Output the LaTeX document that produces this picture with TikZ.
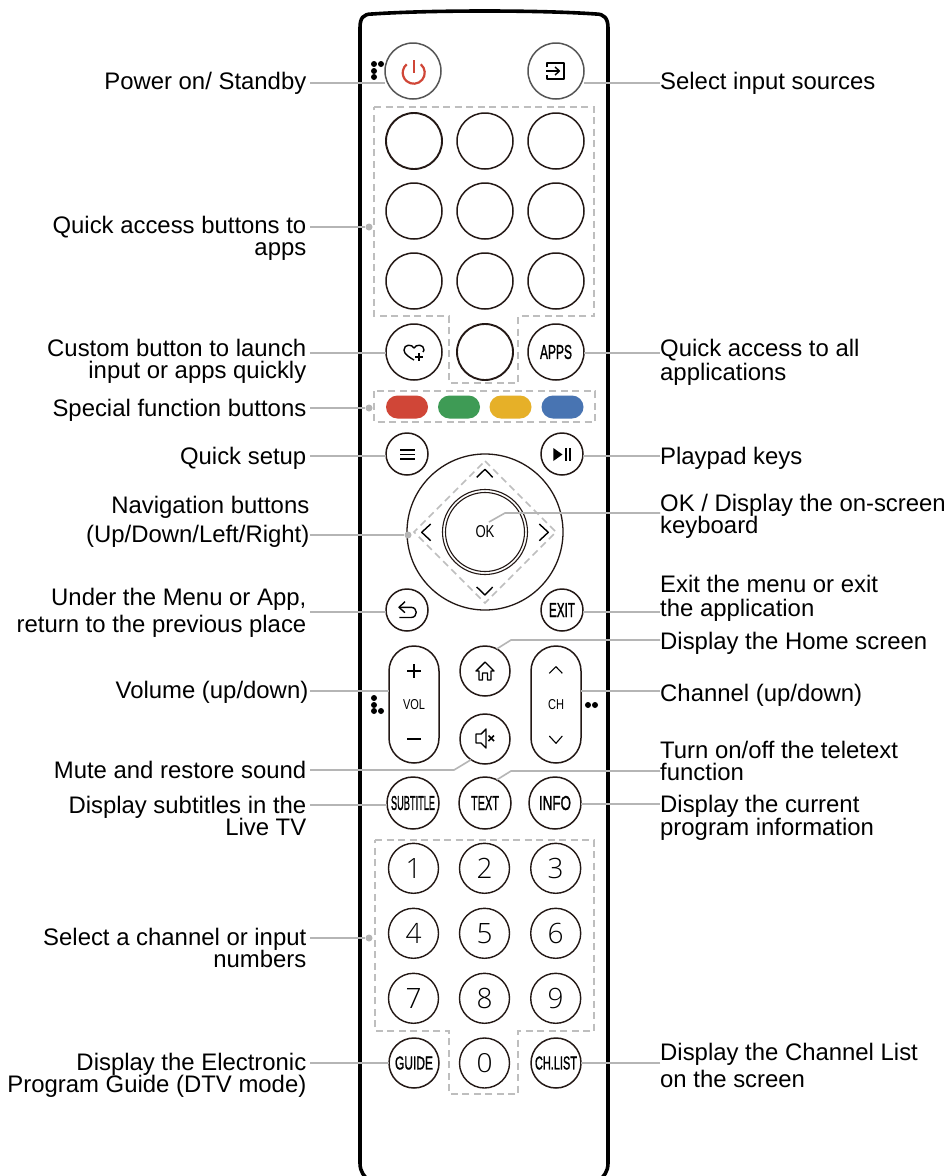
\documentclass[tikz,border=0pt]{standalone}
\usepackage{graphicx}
\usepackage{fontspec}
\setmainfont{Liberation Sans}
\newfontfamily\digitfont{Open Sans Light}
\newfontfamily\keyfont[FakeBold=1.6]{Liberation Sans}
\usepackage{xcolor}
\usetikzlibrary{positioning, shapes}
\definecolor{leadgrey}{RGB}{181,181,181}
\definecolor{dashgrey}{RGB}{190,190,190}
\definecolor{inkdark}{RGB}{35,24,21}
\definecolor{pwrgrey}{RGB}{85,85,85}
\definecolor{keyred}{RGB}{208,70,55}
\definecolor{keygreen}{RGB}{62,155,85}
\definecolor{keyyellow}{RGB}{230,176,40}
\definecolor{keyblue}{RGB}{72,116,178}
\newcommand{\capt}[3][13pt]{\resizebox{#2pt}{#1}{#3}}
\newcommand{\labelfont}{\fontsize{23.9}{22}\selectfont\lineskiplimit=-20pt\relax}

\begin{document}
\begin{tikzpicture}[x=1pt,y=-1pt]
        \tikzset{leftlabel/.style = {anchor=north east, align=right, inner sep=0pt, font=\labelfont}}
        \tikzset{rightlabel/.style = {anchor=north west, align=left, inner sep=0pt, font=\labelfont}}
        \tikzset{btn/.style = {circle, draw=inkdark, line width=1.5pt, inner sep=0pt, outer sep=0pt, minimum size=56pt}}
        \tikzset{sbtn/.style = {btn, minimum size=42pt}}
        \tikzset{mbtn/.style = {btn, minimum size=50pt}}
        \tikzset{digit/.style = {mbtn, line width=1.4pt, font=\digitfont\fontsize{28}{28}\selectfont}}
        \tikzset{pill/.style = {draw=none, rounded corners=11.5pt, inner sep=0pt, minimum width=42pt, minimum height=23pt}}
        \tikzset{capsule/.style = {draw=inkdark, line width=1.5pt, rounded corners=25pt, inner sep=0pt, outer sep=0pt, minimum width=50pt, minimum height=117pt}}
        \tikzset{leader/.style = {draw=leadgrey, line width=1.6pt}}
        \tikzset{area/.style = {draw=dashgrey, line width=1.6pt, dash pattern=on 7pt off 4.5pt}}
        \tikzset{spot/.style = {circle, fill=leadgrey, inner sep=0pt, minimum size=7pt}}
        \tikzset{glyph/.style = {draw=black, line width=1.4pt, line join=round}}

        \path[fill=white, use as bounding box] (0,0) rectangle (947,1176);

        % body
        \begin{scope}
        \clip (0,0) rectangle (947,1176);
        \draw[line width=3.6pt, black] (360,1163) -- (360,28) .. controls (360,18) and (363,14) .. (372,14)
            .. controls (430,10) and (540,10) .. (596,14) .. controls (604,14) and (608,18) .. (608,28)
            -- (608,1163) .. controls (608,1172) and (604,1176) .. (598,1182) -- (370,1182)
            .. controls (364,1176) and (360,1172) .. (360,1163);
        \end{scope}

        % dashed areas
        \draw[area] (374,107) -- (594,107) -- (594,316) -- (518,316) -- (518,383) -- (449,383) -- (449,316) -- (374,316) -- cycle;
        \draw[area] (374,391) rectangle (595,422);
        \draw[area] (485,461) -- (556,532) -- (485,603) -- (414,532) -- cycle;
        \draw[area] (375,840) -- (594,840) -- (594,1031) -- (518,1031) -- (518,1094) -- (449,1094) -- (449,1031) -- (375,1031) -- cycle;

        % buttons
        \node[btn, draw=pwrgrey] (bPower) at (413,71) {};
        \node[btn, draw=pwrgrey] (bInput) at (556,71) {};

        \node[btn, line width=1.9pt] (bApp1) at (414,141) {};
        \node[btn] (bApp2) at (485,141) {};
        \node[btn] (bApp3) at (556,141) {};
        \node[btn] (bApp4) at (414,211) {};
        \node[btn] (bApp5) at (485,211) {};
        \node[btn] (bApp6) at (556,211) {};
        \node[btn] (bApp7) at (414,281) {};
        \node[btn] (bApp8) at (485,281) {};
        \node[btn] (bApp9) at (556,281) {};

        \node[btn] (bFav) at (414,352) {};
        \node[btn, line width=1.9pt] (bCustom) at (485,352) {};
        \node[btn] (bApps) at (556,352) {\capt[14pt]{32}{\keyfont APPS}};

        \node[pill, fill=keyred] (kRed) at (407,407) {};
        \node[pill, fill=keygreen] (kGreen) at (459,407) {};
        \node[pill, fill=keyyellow] (kYellow) at (510.5,407) {};
        \node[pill, fill=keyblue] (kBlue) at (562.5,407) {};

        \node[sbtn] (bMenu) at (407,454) {};
        \node[sbtn] (bPlay) at (562,454) {};
        \node[btn, line width=1.3pt, minimum size=156pt] (bNav) at (485,532) {};
        \node[btn, line width=1.1pt, minimum size=85pt] (bOkOut) at (485,532) {};
        \node[btn, line width=1.1pt, minimum size=79pt] (bOk) at (485,532) {\capt[12pt]{19}{OK}};
        \node[sbtn] (bBack) at (407,610) {};
        \node[sbtn] (bExit) at (562,610) {\capt[14pt]{26}{\keyfont EXIT}};

        \node[capsule] (bVol) at (414,704.5) {\capt[10pt]{22}{VOL}};
        \node[capsule] (bCh) at (556,704.5) {\capt[10pt]{16}{CH}};
        \node[mbtn] (bHome) at (485,671) {};
        \node[mbtn] (bMute) at (485,739) {};

        \node[btn, minimum size=52pt] (bSub) at (413,803) {\capt[14pt]{44}{\keyfont SUBTITLE}};
        \node[btn, minimum size=52pt] (bText) at (485,803) {\capt[14pt]{28}{\keyfont TEXT}};
        \node[btn, minimum size=52pt] (bInfo) at (555,803) {\capt[14pt]{32}{\keyfont INFO}};

        \node[digit] (n1) at (413.5,868.3) {1};
        \node[digit] (n2) at (484.5,868.3) {2};
        \node[digit] (n3) at (555.7,868.3) {3};
        \node[digit] (n4) at (413.5,933.3) {4};
        \node[digit] (n5) at (484.5,933.3) {5};
        \node[digit] (n6) at (555.7,933.3) {6};
        \node[digit] (n7) at (413.5,998.3) {7};
        \node[digit] (n8) at (484.5,998.3) {8};
        \node[digit] (n9) at (555.7,998.3) {9};
        \node[digit] (n0) at (484.5,1063) {\capt[19pt]{16}{0}};
        \node[mbtn] (bGuide) at (414,1063) {\capt{38}{\keyfont GUIDE}};
        \node[mbtn] (bList) at (556,1063) {\capt{42}{\keyfont CH.LIST}};

        % icons
        \draw[line width=2.2pt, keyred] (420.8,64.3) arc[start angle=50, end angle=-230, radius=11pt];
        \draw[line width=2.4pt, keyred] (413.7,60) -- (413.7,73);
        \draw[glyph] (547,67) -- (547,63) -- (564,63) -- (564,79) -- (547,79) -- (547,75);
        \draw[glyph] (546,71) -- (559,71);
        \draw[glyph] (555,67) -- (559.5,71) -- (555,75);
        \draw[glyph] (414,348) .. controls (412,344) and (404,344) .. (404,350) .. controls (404,354) and (409,357) .. (414,360);
        \draw[glyph] (414,348) .. controls (416,344) and (424,344) .. (424,350) -- (423,352);
        \draw[glyph, line width=1.7pt] (415,357) -- (423,357);
        \draw[glyph, line width=1.7pt] (419,353) -- (419,361);
        \draw[glyph, line width=1.7pt] (400,450) -- (415,450);
        \draw[glyph, line width=1.7pt] (400,454.5) -- (415,454.5);
        \draw[glyph, line width=1.7pt] (400,459) -- (415,459);
        \fill (553.3,448) -- (562.5,454.5) -- (553.3,461) -- cycle;
        \draw[glyph] (566,448) -- (566,461);
        \draw[glyph] (570,448) -- (570,461);
        \draw[glyph] (476.7,477.3) -- (485,469.3) -- (492.7,477.3);
        \draw[glyph] (476.7,587) -- (485,595) -- (492.7,587);
        \draw[glyph] (430.7,524) -- (421.7,532.3) -- (430.7,540.7);
        \draw[glyph] (539.3,524) -- (548.3,532.3) -- (539.3,540.7);
        \draw[glyph] (405,601.7) -- (399,607.3) -- (405,612.7);
        \draw[glyph] (399,607.3) -- (411,607.3) .. controls (418,607.3) and (418,617.5) .. (411,617.5) -- (399.3,617.5);
        \draw[glyph] (476,671) -- (485,662) -- (494,671) -- (491,671) -- (491,680) -- (487.5,680) -- (487.5,673) -- (482.5,673) -- (482.5,680) -- (479,680) -- (479,671) -- cycle;
        \draw[glyph] (476,734) -- (481,734) -- (486,729) -- (486,748) -- (481,743) -- (476,743) -- cycle;
        \draw[glyph, line width=1.6pt] (488.5,735.5) -- (494,741);
        \draw[glyph, line width=1.6pt] (494,735.5) -- (488.5,741);
        \draw[glyph, line width=1.1pt] (407,671) -- (421,671);
        \draw[glyph, line width=1.1pt] (414,664) -- (414,678);
        \draw[glyph, line width=2pt] (407,739) -- (421,739);
        \draw[glyph, line width=1.1pt] (549.3,673.3) -- (556,666.7) -- (562.3,673.3);
        \draw[glyph, line width=1.1pt] (549.3,736) -- (556,743.3) -- (562.3,736);

        % raised dots
        \fill (374,64) circle (3pt);
        \fill (381,64) circle (3pt);
        \fill (374,71) circle (3pt);
        \fill (374,77) circle (3pt);
        \fill (374,698) circle (3pt);
        \fill (374,705) circle (3pt);
        \fill (374,711) circle (3pt);
        \fill (381,711) circle (3pt);
        \fill (588,705) circle (3pt);
        \fill (595,705) circle (3pt);

        % left labels
        \node[leftlabel] (lPower) at (306.5,72) {Power on/ Standby};
        \node[leftlabel] (lQuick) at (306.5,216) {Quick access buttons to\\apps};
        \node[leftlabel] (lCustom) at (306.5,339) {Custom button to launch\\input or apps quickly};
        \node[leftlabel] (lSpecial) at (306.5,399) {Special function buttons};
        \node[leftlabel] (lSetup) at (306.5,447) {Quick setup};
        \node[leftlabel] (lNav) at (309.5,496) {Navigation buttons\\[7pt](Up/Down/Left/Right)};
        \node[leftlabel] (lBack) at (306.5,588) {Under the Menu or App,\\[5pt]return to the previous place};
        \node[leftlabel] (lVol) at (308.5,681) {Volume (up/down)};
        \node[leftlabel] (lMute) at (306.5,761) {Mute and restore sound};
        \node[leftlabel] (lSub) at (306.5,796) {Display subtitles in the\\Live TV};
        \node[leftlabel] (lNum) at (306.5,928) {Select a channel or input\\numbers};
        \node[leftlabel] (lGuide) at (306.5,1053) {Display the Electronic\\Program Guide (DTV mode)};

        % right labels
        \node[rightlabel] (rInput) at (660,72) {Select input sources};
        \node[rightlabel] (rApps) at (660,339) {Quick access to all\\[2pt]applications};
        \node[rightlabel] (rPlay) at (660,447) {Playpad keys};
        \node[rightlabel] (rOk) at (660,494) {OK / Display the on-screen\\keyboard};
        \node[rightlabel] (rExit) at (660,575) {Exit the menu or exit\\[2pt]the application};
        \node[rightlabel] (rHome) at (660,632) {Display the Home screen};
        \node[rightlabel] (rCh) at (660,684) {Channel (up/down)};
        \node[rightlabel] (rText) at (660,741) {Turn on/off the teletext\\function};
        \node[rightlabel] (rInfo) at (660,795) {Display the current\\[1pt]program information};
        \node[rightlabel] (rList) at (660,1043) {Display the Channel List\\[5pt]on the screen};

        % free ends and spots
        \coordinate (aPower) at (310,83);
        \coordinate (aQuick) at (310,227);
        \coordinate (aCustom) at (310,353);
        \coordinate (aSpecial) at (310,408);
        \coordinate (aSetup) at (310,456);
        \coordinate (aNav) at (310,535);
        \coordinate (aBack) at (310,612);
        \coordinate (aVol) at (310,691);
        \coordinate (aMute) at (310,770);
        \coordinate (aSub) at (310,805);
        \coordinate (aNum) at (310,938);
        \coordinate (aGuide) at (310,1063);
        \coordinate (cInput) at (660,83);
        \coordinate (cApps) at (660,353);
        \coordinate (cPlay) at (660,456);
        \coordinate (cOk) at (660,513);
        \coordinate (cExit) at (660,612);
        \coordinate (cHome) at (660,640);
        \coordinate (cCh) at (660,691);
        \coordinate (cText) at (660,771);
        \coordinate (cInfo) at (660,804);
        \coordinate (cList) at (660,1063);
        \coordinate (kOk) at (505,513);
        \coordinate (eOk) at (489,522);
        \coordinate (kHome) at (511,640);
        \coordinate (kMute) at (454,770);
        \coordinate (kText) at (511,771);
        \node[spot] (sQuick) at (369,227) {};
        \node[spot] (sSpecial) at (369,408) {};
        \node[spot] (sNav) at (408,535) {};
        \node[spot] (sNum) at (369,938) {};

        % leaders
        \draw[leader] (aPower) -- (aPower -| bPower.west);
        \draw[leader] (aQuick) -- (sQuick);
        \draw[leader] (aCustom) -- (aCustom -| bFav.west);
        \draw[leader] (aSpecial) -- (sSpecial);
        \draw[leader] (aSetup) -- (aSetup -| bMenu.west);
        \draw[leader] (aNav) -- (sNav);
        \draw[leader] (aBack) -- (aBack -| bBack.west);
        \draw[leader] (aVol) -- (aVol -| bVol.west);
        \draw[leader] (aMute) -- (kMute) -- (bMute.236);
        \draw[leader] (aSub) -- (aSub -| bSub.west);
        \draw[leader] (aNum) -- (sNum);
        \draw[leader] (aGuide) -- (aGuide -| bGuide.west);
        \draw[leader] (cInput) -- (cInput -| bInput.east);
        \draw[leader] (cApps) -- (cApps -| bApps.east);
        \draw[leader] (cPlay) -- (cPlay -| bPlay.east);
        \draw[leader] (cOk) -- (kOk) -- (eOk);
        \draw[leader] (cExit) -- (cExit -| bExit.east);
        \draw[leader] (cHome) -- (kHome) -- (bHome.62);
        \draw[leader] (cCh) -- (cCh -| bCh.east);
        \draw[leader] (cText) -- (kText) -- (bText.63);
        \draw[leader] (cInfo) -- (cInfo -| bInfo.east);
        \draw[leader] (cList) -- (cList -| bList.east);
\end{tikzpicture}
\end{document}
